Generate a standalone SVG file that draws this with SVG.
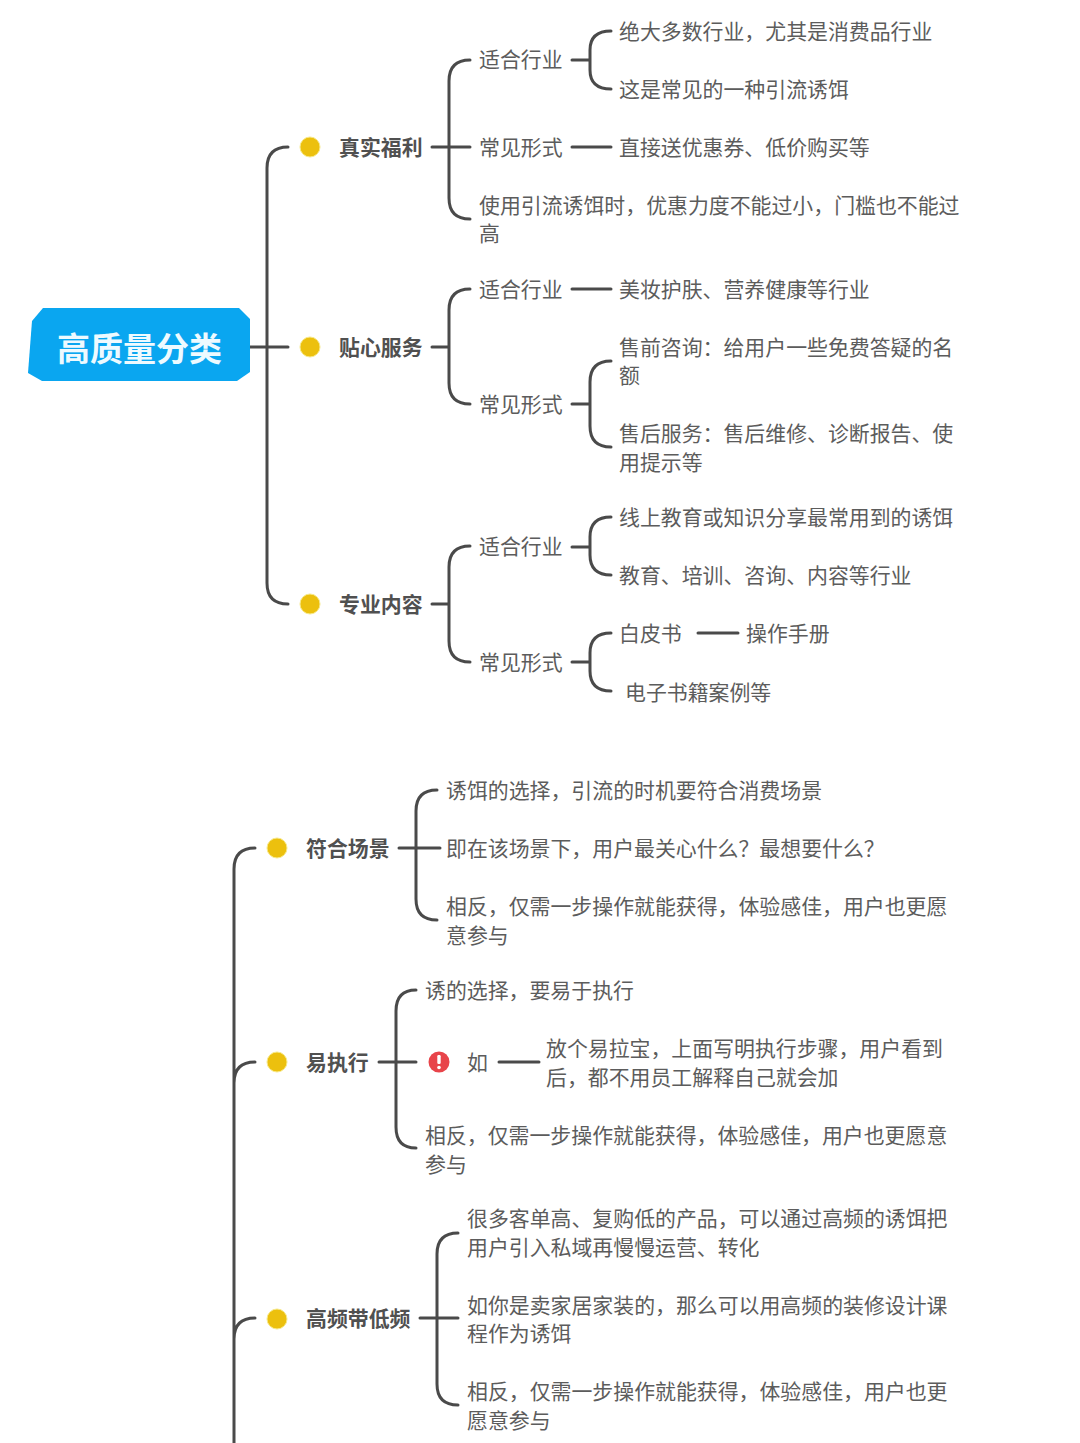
<svg xmlns="http://www.w3.org/2000/svg" width="1080" height="1443" viewBox="0 0 1080 1443">
<style>
text{font-family:"Noto Sans CJK SC","Liberation Sans",sans-serif;font-size:20.9px;fill:#5c5c5c}
.b{font-weight:700;fill:#505050}
.c path{fill:none;stroke:#4a4a4a;stroke-width:3;stroke-linecap:round}
.dot{fill:#ecc00e;stroke:#f7e98a;stroke-width:1}
</style>
<rect width="1080" height="1443" fill="#fff"/>
<g class="c" id="connectors">
<path d="M250 347H288M288 147Q267 147 267 168V583Q267 604 288 604"/>
<path d="M432 147H470M470 60Q449 60 449 81V198Q449 219 470 219"/>
<path d="M572 60H590M611 31Q590 31 590 50V70Q590 89 611 89"/>
<path d="M572 147H611"/>
<path d="M432 347H449M470 289Q449 289 449 310V383Q449 404 470 404"/>
<path d="M572 289H611"/>
<path d="M572 404H590M611 361Q590 361 590 382V426Q590 447 611 447"/>
<path d="M432 604H449M470 546Q449 546 449 567V641Q449 662 470 662"/>
<path d="M572 547H590M611 517Q590 517 590 537V555Q590 575 611 575"/>
<path d="M572 662H590M611 633Q590 633 590 653V671Q590 691 611 691"/>
<path d="M698 633H738"/>
<path d="M255 848Q234 848 234 869V1443M255 1062Q234 1062 234 1083M255 1318Q234 1318 234 1339"/>
<path d="M399 848H440M437 790Q416 790 416 811V899Q416 920 437 920"/>
<path d="M379 1062H416M416 990Q396 990 396 1011V1127Q396 1148 416 1148"/>
<path d="M499 1062H539"/>
<path d="M420 1318H458M458 1233Q437 1233 437 1254V1384Q437 1405 458 1405"/>
</g>
<g id="root"><polygon points="43,308 239,308 250,319 250,372 237,381 42,381 28,373 32,321" fill="#0aa6f0"/><text x="57" y="361" style="font-size:33px;font-weight:700;fill:#eefaff">高质量分类</text></g>
<g id="n1"><circle class="dot" cx="310" cy="147" r="10"/><text class="b" x="339" y="155">真实福利</text></g>
<g id="n1a"><text x="479" y="67">适合行业</text></g>
<g id="n1a1"><text x="619" y="39">绝大多数行业，尤其是消费品行业</text></g>
<g id="n1a2"><text x="619" y="97">这是常见的一种引流诱饵</text></g>
<g id="n1b"><text x="479" y="155">常见形式</text></g>
<g id="n1b1"><text x="619" y="155">直接送优惠券、低价购买等</text></g>
<g id="n1c"><text x="479" y="213">使用引流诱饵时，优惠力度不能过小，门槛也不能过</text><text x="479" y="241">高</text></g>
<g id="n2"><circle class="dot" cx="310" cy="347" r="10"/><text class="b" x="339" y="355">贴心服务</text></g>
<g id="n2a"><text x="479" y="297">适合行业</text></g>
<g id="n2a1"><text x="619" y="297">美妆护肤、营养健康等行业</text></g>
<g id="n2b"><text x="479" y="412">常见形式</text></g>
<g id="n2b1"><text x="619" y="355">售前咨询：给用户一些免费答疑的名</text><text x="619" y="383">额</text></g>
<g id="n2b2"><text x="619" y="441">售后服务：售后维修、诊断报告、使</text><text x="619" y="470">用提示等</text></g>
<g id="n3"><circle class="dot" cx="310" cy="604" r="10"/><text class="b" x="339" y="612">专业内容</text></g>
<g id="n3a"><text x="479" y="554">适合行业</text></g>
<g id="n3a1"><text x="619" y="525">线上教育或知识分享最常用到的诱饵</text></g>
<g id="n3a2"><text x="619" y="583">教育、培训、咨询、内容等行业</text></g>
<g id="n3b"><text x="479" y="670">常见形式</text></g>
<g id="n3b1"><text x="619" y="641">白皮书</text></g>
<g id="n3b1a"><text x="746" y="641">操作手册</text></g>
<g id="n3b2"><text x="625" y="700">电子书籍案例等</text></g>
<g id="n4"><circle class="dot" cx="277" cy="848" r="10"/><text class="b" x="306" y="856">符合场景</text></g>
<g id="n4a"><text x="446" y="798">诱饵的选择，引流的时机要符合消费场景</text></g>
<g id="n4b"><text x="446" y="856">即在该场景下，用户最关心什么？最想要什么？</text></g>
<g id="n4c"><text x="446" y="914">相反，仅需一步操作就能获得，体验感佳，用户也更愿</text><text x="446" y="943">意参与</text></g>
<g id="n5"><circle class="dot" cx="277" cy="1062" r="10"/><text class="b" x="306" y="1070">易执行</text></g>
<g id="n5a"><text x="425" y="998">诱的选择，要易于执行</text></g>
<g id="n5b"><circle cx="439" cy="1062" r="10.5" fill="#e8444a"/><rect x="437.3" y="1055" width="3.4" height="9" rx="1.2" fill="#fff"/><circle cx="439" cy="1067.5" r="1.8" fill="#fff"/><text x="467" y="1070">如</text></g>
<g id="n5b1"><text x="546" y="1056">放个易拉宝，上面写明执行步骤，用户看到</text><text x="546" y="1085">后，都不用员工解释自己就会加</text></g>
<g id="n5c"><text x="425" y="1143">相反，仅需一步操作就能获得，体验感佳，用户也更愿意</text><text x="425" y="1172">参与</text></g>
<g id="n6"><circle class="dot" cx="277" cy="1319" r="10"/><text class="b" x="306" y="1326">高频带低频</text></g>
<g id="n6a"><text x="467" y="1226">很多客单高、复购低的产品，可以通过高频的诱饵把</text><text x="467" y="1255">用户引入私域再慢慢运营、转化</text></g>
<g id="n6b"><text x="467" y="1313">如你是卖家居家装的，那么可以用高频的装修设计课</text><text x="467" y="1341">程作为诱饵</text></g>
<g id="n6c"><text x="467" y="1399">相反，仅需一步操作就能获得，体验感佳，用户也更</text><text x="467" y="1428">愿意参与</text></g>
</svg>
